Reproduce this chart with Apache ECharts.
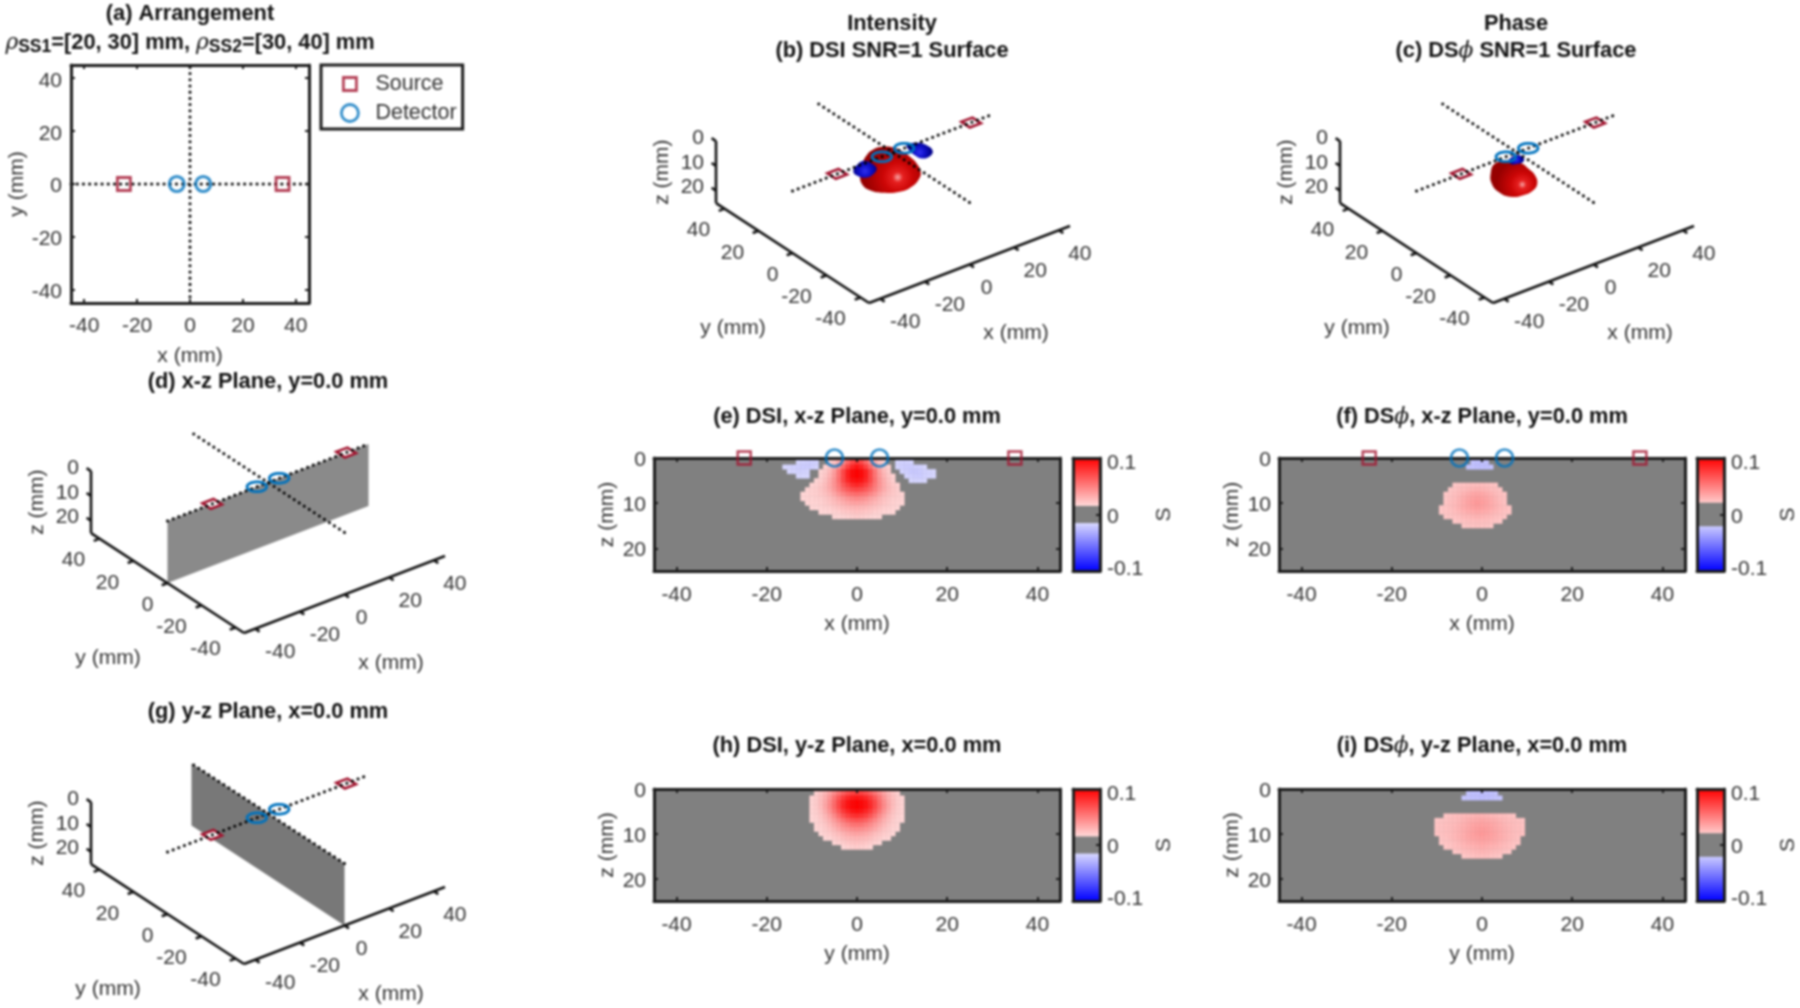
<!DOCTYPE html>
<html>
<head>
<meta charset="utf-8">
<style>
  html, body { margin: 0; background: #fff; }
  #main { width: 1800px; height: 1008px; filter: blur(0.8px); }
</style>
</head>
<body>
<div id="main"></div>
<script src="https://cdn.jsdelivr.net/npm/echarts@6/dist/echarts.min.js"></script>
<script>
// --- values ---
const axisSpan = [-45, 45]
const depthSpan = [0, 25]
const lateralTicks = [-40, -20, 0, 20, 40]
const depthTicks = [0, 10, 20]
const colorbarTicks = [-0.1, 0, 0.1]
const sourceX = [-25, 35]
const detectorX = [-5, 5]

// field rows: [z mm, first x mm, values in S x 1000 for consecutive x at 1 mm]
const dsiXzRows = [
  [0, -5, [20, 28, 38, 50, 60, 66, 60, 50, 38, 28, 20]],
  [1, -6, [18, 24, 33, 45, 60, 72, 78, 72, 60, 45, 33, 24, 18]],
  [2, -7, [18, 22, 30, 42, 58, 74, 86, 92, 86, 74, 58, 42, 30, 22, 18]],
  [3, -8, [17, 20, 27, 38, 54, 72, 88, 97, 100, 97, 88, 72, 54, 38, 27, 20]],
  [4, -8, [18, 22, 30, 40, 55, 72, 88, 97, 100, 97, 88, 72, 55, 40, 30, 22, 18]],
  [5, -9, [17, 19, 24, 32, 42, 56, 72, 85, 93, 95, 93, 85, 72, 56, 42, 32, 24, 19]],
  [6, -10, [17, 18, 21, 26, 33, 42, 53, 65, 75, 82, 85, 82, 75, 65, 53, 42, 33, 26, 21, 18]],
  [7, -11, [17, 18, 19, 22, 26, 32, 40, 49, 58, 65, 70, 72, 70, 65, 58, 49, 40, 32, 26, 22, 19]],
  [8, -12, [16, 17, 18, 19, 21, 24, 28, 34, 41, 47, 53, 56, 58, 56, 53, 47, 41, 34, 28, 24, 21, 19, 17]],
  [9, -12, [16, 17, 17, 18, 19, 21, 24, 28, 33, 37, 41, 44, 46, 44, 41, 37, 33, 28, 24, 21, 19, 18, 17]],
  [10, -11, [16, 17, 17, 18, 20, 22, 25, 28, 31, 34, 36, 37, 36, 34, 31, 28, 25, 22, 20, 18, 17, 16]],
  [11, -10, [16, 16, 17, 18, 19, 21, 23, 25, 27, 28, 29, 28, 27, 25, 23, 21, 19, 18, 17, 16]],
  [12, -8, [16, 16, 17, 18, 19, 21, 22, 23, 24, 23, 22, 21, 19, 18, 17, 16, 16]],
  [13, -5, [16, 16, 17, 18, 19, 20, 19, 18, 17, 16, 16]],
  [1, -13, [-17, -18, -19, -19, -18]],
  [2, -16, [-16, -17, -18, -19, -20, -20, -19, -17]],
  [3, -15, [-16, -17, -18, -18, -17]],
  [4, -13, [-16, -16, -16]],
  [1, 9, [-17, -18, -18, -17]],
  [2, 9, [-17, -19, -20, -20, -19, -18, -16]],
  [3, 10, [-17, -19, -21, -21, -20, -18, -17, -16]],
  [4, 11, [-17, -19, -20, -20, -18, -17, -16]],
  [5, 12, [-16, -17, -17, -16]]
]
const dsiYzRows = [
  [0, -7, [26, 32, 40, 48, 55, 60, 64, 66, 64, 60, 55, 48, 40, 32, 26]],
  [1, -9, [19, 23, 29, 37, 46, 55, 63, 70, 75, 77, 75, 70, 63, 55, 46, 37, 29, 23, 19]],
  [2, -10, [17, 20, 25, 32, 42, 54, 66, 77, 85, 90, 92, 90, 85, 77, 66, 54, 42, 32, 25, 20, 17]],
  [3, -10, [17, 20, 26, 34, 45, 58, 72, 84, 93, 98, 100, 98, 93, 84, 72, 58, 45, 34, 26, 20, 17]],
  [4, -10, [17, 20, 26, 35, 46, 59, 72, 85, 93, 98, 100, 98, 93, 85, 72, 59, 46, 35, 26, 20, 17]],
  [5, -10, [17, 19, 24, 32, 42, 54, 66, 78, 86, 92, 94, 92, 86, 78, 66, 54, 42, 32, 24, 19, 17]],
  [6, -10, [16, 18, 22, 28, 36, 46, 57, 67, 75, 80, 82, 80, 75, 67, 57, 46, 36, 28, 22, 18, 16]],
  [7, -10, [16, 17, 20, 25, 31, 39, 47, 55, 62, 66, 68, 66, 62, 55, 47, 39, 31, 25, 20, 17, 16]],
  [8, -9, [17, 19, 22, 27, 33, 39, 45, 50, 54, 55, 54, 50, 45, 39, 33, 27, 22, 19, 17]],
  [9, -9, [16, 17, 20, 23, 28, 33, 38, 41, 44, 45, 44, 41, 38, 33, 28, 23, 20, 17, 16]],
  [10, -8, [16, 18, 20, 23, 26, 30, 33, 35, 36, 35, 33, 30, 26, 23, 20, 18, 16]],
  [11, -7, [16, 17, 20, 22, 25, 27, 28, 29, 28, 27, 25, 22, 20, 17, 16]],
  [12, -5, [16, 18, 20, 22, 23, 24, 23, 22, 20, 18, 16]],
  [13, -3, [16, 18, 19, 20, 19, 18, 16]]
]
const phiXzRows = [
  [1, -2, [-24, -25, -25, -24]],
  [2, -3, [-23, -24, -25, -25, -25, -24]],
  [6, -6, [22, 23, 24, 25, 26, 26, 26, 25, 24, 23]],
  [7, -7, [22, 23, 25, 26, 28, 29, 30, 29, 28, 26, 25, 23]],
  [8, -8, [22, 23, 25, 27, 30, 32, 34, 35, 34, 32, 30, 27, 25, 23]],
  [9, -8, [22, 24, 26, 29, 32, 35, 37, 38, 37, 35, 32, 29, 26, 24]],
  [10, -8, [23, 25, 27, 30, 33, 36, 38, 40, 38, 36, 33, 30, 27, 24]],
  [11, -9, [22, 23, 25, 27, 30, 33, 35, 37, 38, 37, 35, 33, 30, 27, 25, 23]],
  [12, -9, [22, 23, 24, 26, 28, 30, 32, 33, 34, 33, 32, 30, 28, 26, 24, 23]],
  [13, -8, [22, 23, 24, 25, 27, 28, 29, 30, 29, 28, 27, 25, 24, 23]],
  [14, -6, [22, 23, 24, 25, 25, 26, 25, 25, 24, 23, 22]],
  [15, -4, [22, 23, 23, 24, 23, 23, 22]]
]
const phiYzRows = [
  [0, -2, [-24, -24, -24, -24, -24]],
  [1, -3, [-24, -25, -25, -26, -25, -25, -24]],
  [2, -4, [-23, -24, -25, -25, -26, -25, -25, -24, -23]],
  [6, -8, [23, 24, 25, 26, 27, 28, 29, 30, 30, 29, 28, 27, 26, 25, 24, 23]],
  [7, -10, [22, 23, 24, 25, 26, 27, 29, 31, 32, 33, 34, 33, 32, 31, 29, 27, 26, 25, 24, 23]],
  [8, -10, [23, 24, 25, 26, 27, 29, 31, 33, 35, 36, 37, 36, 35, 33, 31, 29, 27, 26, 25, 24]],
  [9, -10, [23, 24, 25, 26, 28, 30, 32, 34, 36, 38, 39, 38, 36, 34, 32, 30, 28, 26, 25, 24]],
  [10, -10, [23, 24, 25, 26, 28, 30, 32, 35, 37, 39, 40, 39, 37, 35, 32, 30, 28, 26, 25, 24]],
  [11, -9, [23, 24, 26, 28, 30, 32, 34, 36, 37, 38, 37, 36, 34, 32, 30, 28, 26, 24]],
  [12, -9, [22, 23, 24, 26, 28, 30, 32, 33, 34, 35, 34, 33, 32, 30, 28, 26, 24, 23]],
  [13, -8, [22, 23, 25, 26, 28, 29, 30, 31, 32, 31, 30, 29, 28, 26, 25, 23]],
  [14, -6, [22, 23, 25, 26, 27, 28, 29, 28, 27, 26, 25, 23, 22]],
  [15, -4, [22, 23, 24, 25, 25, 25, 24, 23, 22]]
]

// SNR=1 surface silhouettes, in the projected view plane of the 3D panels
const dsiRedOutline = [[-10.7, 5.7], [-19.7, 3], [-26.3, -2.7], [-31.3, -12.7], [-33, -24.3], [-30.3, -32.7], [-23, -37.7], [-9.7, -40.3], [7, -39.3], [18.7, -34.3], [26.3, -26], [27.7, -19.3], [23.7, -11], [17, -4.3], [10.3, 0.7], [0.3, 5]]
const dsiBlueLeftOutline = [[-39.7, -19.3], [-36.3, -12.7], [-29, -8.3], [-21.3, -11], [-16.3, -16], [-19.7, -21.7], [-26.3, -25], [-34.7, -23.7]]
const dsiBlueRightOutline = [[13.7, 7.3], [23.7, 9.7], [33.7, 7.3], [39.7, 1.7], [37, -3.7], [28.7, -6], [20.3, -1.7], [15.3, 3.3]]
const phiRedOutline = [[-22, -11], [-26.3, -21], [-25.3, -31], [-18.7, -39.3], [-7, -44.3], [6.3, -42.7], [16.3, -37.7], [20.3, -31], [18, -22.7], [11.3, -16], [4.7, -11], [-7, -7.7]]
const phiBlueOutline = [[-8.7, -7.7], [-0.3, -2.7], [6.3, -5], [6.3, -9.3], [-2, -11.7], [-7, -11]]

// --- styles and layout ---
const fontFamily = '"Liberation Sans", Arial, sans-serif'
const tickColor = '#333'
const boxColor = '#1c1c1c'
const sourceColor = '#A2142F'
const detectorColor = '#0072BD'
const grey = '#808080'
const view = { xu: 2.233, yu: -1.7, xv: 0.856, yv: 1.11, zv: -2.48 }

const grids = []
const xAxes = []
const yAxes = []
const series = []

function project(p) {
  return [p[0] * view.xu + p[1] * view.yu, p[0] * view.xv + p[1] * view.yv + p[2] * view.zv]
}

function mix(rgb, f) {
  const c = rgb.map(v => Math.round(255 + (v - 255) * f))
  return 'rgb(' + c.join(',') + ')'
}

function colorOf(v) {
  return v > 0 ? mix([255, 0, 0], Math.min(v / 0.1, 1)) : mix([0, 0, 255], Math.min(-v / 0.1, 1))
}

function boxAxis(position, span, ticks, extra) {
  return Object.assign({
    type: 'value',
    position,
    min: span[0],
    max: span[1],
    z: 10,
    splitLine: { show: false },
    axisLine: { show: true, onZero: false, lineStyle: { color: boxColor, width: 3 } },
    axisTick: { show: true, inside: true, length: 4, customValues: ticks, lineStyle: { color: boxColor, width: 2 } },
    axisLabel: { show: false }
  }, extra)
}

function labelStyle(ticks, margin) {
  return { show: true, customValues: ticks, margin, color: tickColor, fontSize: 21, fontFamily }
}

function nameStyle(name, gap) {
  return {
    name,
    nameLocation: 'middle',
    nameGap: gap,
    nameTextStyle: { color: tickColor, fontSize: 21, fontFamily }
  }
}

// one 2D plot box with inward ticks on all four sides
function addBox(rect, ySpan, yTicks, xName, yName, extraY) {
  const idx = grids.length
  grids.push({ left: rect[0], top: rect[1], width: rect[2], height: rect[3], show: true, backgroundColor: rect.bg || 'transparent', borderWidth: 0 })
  xAxes.push(boxAxis('bottom', axisSpan, lateralTicks, Object.assign({ gridIndex: idx, axisLabel: labelStyle(lateralTicks, rect.xMargin) }, nameStyle(xName, rect.xGap))))
  const xTop = xAxes.length
  xAxes.push(boxAxis('top', axisSpan, lateralTicks, { gridIndex: idx }))
  // labels sit a little below their ticks in the picture, so they get a nudged position
  const yLabels = Object.assign(labelStyle(yTicks.map(t => t + rect.yNudge), rect.yMargin), { formatter: v => String(Math.round(v / 10) * 10) })
  yAxes.push(boxAxis('left', ySpan, yTicks, Object.assign({ gridIndex: idx, axisLabel: yLabels }, nameStyle(yName, rect.yGap), extraY)))
  const yRight = yAxes.length
  yAxes.push(boxAxis('right', ySpan, yTicks, Object.assign({ gridIndex: idx }, extraY)))
  return { x: xTop - 1, y: yRight - 1 }
}

function cellsFrom(rows) {
  const cells = []
  rows.forEach(r => r[2].forEach((v, i) => cells.push([r[1] + i, r[0], v / 1000])))
  return cells
}

function addField(plotRect, barRect, rows, threshold, xName, withProbes) {
  const rect = Object.assign(plotRect.slice(), { bg: grey, xMargin: 14, xGap: 43, yMargin: 8, yGap: 36, yNudge: 0.5 })
  const ax = addBox(rect, depthSpan, depthTicks, xName, 'z (mm)', { inverse: true })
  series.push({
    type: 'custom',
    xAxisIndex: ax.x,
    yAxisIndex: ax.y,
    silent: true,
    clip: true,
    z: 2,
    data: cellsFrom(rows),
    renderItem(params, api) {
      const a = api.coord([api.value(0) - 0.5, api.value(1) - 0.5])
      const b = api.coord([api.value(0) + 0.5, api.value(1) + 0.5])
      const c = colorOf(api.value(2))
      return {
        type: 'rect',
        shape: { x: a[0], y: a[1], width: b[0] - a[0], height: b[1] - a[1] },
        style: { fill: c, stroke: c, lineWidth: 0.4 }
      }
    }
  })
  if (withProbes) addProbes(ax, withProbes, 2.4)
  addColorbar(barRect, threshold)
}

function addProbes(ax, sizes, stroke) {
  series.push({
    name: 'Source',
    type: 'scatter',
    xAxisIndex: ax.x,
    yAxisIndex: ax.y,
    symbol: 'rect',
    symbolSize: sizes[0],
    clip: false,
    silent: true,
    z: 20,
    itemStyle: { color: 'transparent', borderColor: sourceColor, borderWidth: stroke },
    data: sourceX.map(x => [x, 0])
  })
  series.push({
    name: 'Detector',
    type: 'scatter',
    xAxisIndex: ax.x,
    yAxisIndex: ax.y,
    symbol: 'circle',
    symbolSize: sizes[1],
    clip: false,
    silent: true,
    z: 20,
    itemStyle: { color: 'transparent', borderColor: detectorColor, borderWidth: stroke + 0.3 },
    data: detectorX.map(x => [x, 0])
  })
}

function addColorbar(rect, threshold) {
  const idx = grids.length
  grids.push({ left: rect[0], top: rect[1], width: rect[2], height: rect[3], show: true, backgroundColor: grey, borderWidth: 0 })
  const barX = { type: 'value', min: 0, max: 1, gridIndex: idx, z: 10, splitLine: { show: false }, axisTick: { show: false }, axisLabel: { show: false }, axisLine: { show: true, onZero: false, lineStyle: { color: boxColor, width: 3 } } }
  xAxes.push(Object.assign({ position: 'bottom' }, barX))
  xAxes.push(Object.assign({ position: 'top' }, barX))
  const barSpan = [colorbarTicks[0], colorbarTicks[2]]
  // label anchors are pulled in from the bar ends, as in the picture
  const barLabels = [-0.0973, -0.0044, 0.0912]
  yAxes.push(boxAxis('left', barSpan, [], { gridIndex: idx, axisTick: { show: false } }))
  yAxes.push(boxAxis('right', barSpan, [0], Object.assign({
    gridIndex: idx,
    axisLabel: Object.assign(labelStyle(barLabels, 7), { formatter: v => String(Math.round(v * 10) / 10 + 0) })
  }, nameStyle('S', 54), { nameRotate: 90 })))
  const segments = [[threshold, colorbarTicks[2]], [colorbarTicks[0], -threshold]]
  series.push({
    type: 'custom',
    xAxisIndex: xAxes.length - 2,
    yAxisIndex: yAxes.length - 1,
    silent: true,
    z: 2,
    data: segments,
    renderItem(params, api) {
      const lo = api.value(0)
      const hi = api.value(1)
      const a = api.coord([0, hi])
      const b = api.coord([1, lo])
      return {
        type: 'rect',
        shape: { x: a[0], y: a[1], width: b[0] - a[0], height: b[1] - a[1] },
        style: { fill: new echarts.graphic.LinearGradient(0, 0, 0, 1, [{ offset: 0, color: colorOf(hi) }, { offset: 1, color: colorOf(lo) }]) }
      }
    }
  })
}

// a hidden grid with one unit = one pixel of the projected view plane
function add3dPanel(center, panel) {
  const idx = grids.length
  const w = 260
  const up = 110
  const down = 190
  grids.push({ left: center[0] - w, top: center[1] - up, width: 2 * w, height: up + down, show: false })
  xAxes.push({ type: 'value', gridIndex: idx, show: false, min: -w, max: w })
  yAxes.push({ type: 'value', gridIndex: idx, show: false, min: -down, max: up })

  function layer(items, z, build) {
    series.push({
      type: 'custom',
      xAxisIndex: xAxes.length - 1,
      yAxisIndex: yAxes.length - 1,
      silent: true,
      clip: false,
      z,
      data: items.map((_, i) => [i, 0]),
      renderItem: (params, api) => build(items[params.dataIndex], api)
    })
  }
  const at = (p, api) => api.coord(project(p))
  const [x0, x1] = axisSpan
  const zEnd = depthSpan[1]

  if (panel.plane) {
    layer([panel.plane], 2, (corners, api) => ({
      type: 'polygon',
      shape: { points: corners.map(p => at(p, api)) },
      style: { fill: panel.planeColor }
    }))
  }
  layer(panel.blobs || [], 3, (blob, api) => ({
    type: 'polygon',
    shape: { points: blob.outline.map(p => api.coord(p)), smooth: 0.45 },
    style: { fill: new echarts.graphic.RadialGradient(blob.spot[0], blob.spot[1], blob.spot[2], blob.stops) }
  }))
  // source squares lie flat in the z=0 plane
  layer(sourceX, 4, (x, api) => {
    const s = 2.5
    return {
      type: 'polygon',
      shape: { points: [[x - s, -s, 0], [x + s, -s, 0], [x + s, s, 0], [x - s, s, 0]].map(p => at(p, api)) },
      style: { fill: '#fff', stroke: sourceColor, lineWidth: 2.6 }
    }
  })
  const guideLines = [
    [[x0, 0, 0], [x1, 0, 0]],
    [[0, x0, 0], [0, x1, 0]]
  ]
  layer(guideLines, 5, (seg, api) => {
    const a = at(seg[0], api)
    const b = at(seg[1], api)
    return {
      type: 'line',
      shape: { x1: a[0], y1: a[1], x2: b[0], y2: b[1] },
      style: { stroke: '#000', lineWidth: 3, lineDash: [0.1, 5.9], lineCap: 'round' }
    }
  })
  layer(detectorX, 6, (x, api) => {
    const r = 3.5
    const pts = []
    for (let a = 0; a < 360; a += 15) {
      pts.push(at([x + r * Math.cos(a * Math.PI / 180), r * Math.sin(a * Math.PI / 180), 0], api))
    }
    return { type: 'polygon', shape: { points: pts }, style: { fill: 'none', stroke: detectorColor, lineWidth: 2.8 } }
  })

  // axes: x and y run along the floor at z=25, z stands at the back corner
  const tickLen = 2.6
  const segs = [
    [[x0, x0, zEnd], [x1, x0, zEnd]],
    [[x0, x0, zEnd], [x0, x1, zEnd]],
    [[x0, x1, 0], [x0, x1, zEnd]]
  ]
  lateralTicks.forEach(t => {
    segs.push([[t, x0, zEnd], [t, x0 - tickLen, zEnd]])
    segs.push([[x0, t, zEnd], [x0 - tickLen, t, zEnd]])
  })
  depthTicks.forEach(t => segs.push([[x0, x1, t], [x0, x1 + tickLen, t]]))
  layer(segs, 8, (seg, api) => {
    const a = at(seg[0], api)
    const b = at(seg[1], api)
    return {
      type: 'line',
      shape: { x1: a[0], y1: a[1], x2: b[0], y2: b[1] },
      style: { stroke: '#111', lineWidth: 2.6 }
    }
  })

  const texts = []
  lateralTicks.forEach(t => {
    texts.push({ p: [t, x0, zEnd], dx: t === 0 ? 17 : t < 0 ? 25 : 21, dy: 24, text: String(t), align: 'center' })
    texts.push({ p: [x0, t, zEnd], dx: t === 0 ? -20 : t < 0 ? -30 : -26, dy: 22, text: String(t), align: 'center' })
  })
  depthTicks.forEach(t => texts.push({ p: [x0, x1, t], dx: -12, dy: -3, text: String(t), align: 'right' }))
  texts.push({ p: [x0, x0, zEnd], dx: 147, dy: 30, text: 'x (mm)', align: 'center' })
  texts.push({ p: [x0, x0, zEnd], dx: -136, dy: 25, text: 'y (mm)', align: 'center' })
  texts.push({ p: [x0, x1, zEnd / 2], dx: -54, dy: 0, text: 'z (mm)', align: 'center', rotation: Math.PI / 2 })
  layer(texts, 9, (t, api) => {
    const a = at(t.p, api)
    return {
      type: 'text',
      x: a[0] + t.dx,
      y: a[1] + t.dy,
      rotation: t.rotation || 0,
      style: { text: t.text, fill: tickColor, font: '21px ' + fontFamily, textAlign: t.align, textVerticalAlign: 'middle' }
    }
  })
}

const redStops = [
  { offset: 0, color: '#f8a8a8' },
  { offset: 0.16, color: '#e62020' },
  { offset: 0.45, color: '#cc0606' },
  { offset: 1, color: '#960000' }
]
const blueStops = [
  { offset: 0, color: '#3030f0' },
  { offset: 0.5, color: '#1010c8' },
  { offset: 1, color: '#00008c' }
]

// --- panels ---
// (a) arrangement
const boxA = Object.assign([71, 65, 238, 238], { xMargin: 13, xGap: 43, yMargin: 9, yGap: 42, yNudge: -1 })
const axA = addBox(boxA, axisSpan, lateralTicks, 'x (mm)', 'y (mm)', {})
const guideA = [[[axisSpan[0], 0], [axisSpan[1], 0]], [[0, axisSpan[0]], [0, axisSpan[1]]]]
guideA.forEach(seg => series.push({
  type: 'line',
  xAxisIndex: axA.x,
  yAxisIndex: axA.y,
  silent: true,
  showSymbol: false,
  lineStyle: { color: '#000', width: 3, type: [0.1, 6.1], cap: 'round' },
  z: 3,
  data: seg
}))
addProbes(axA, [13, 15], 2.8)

add3dPanel([893, 152.5], {
  blobs: [
    { outline: dsiRedOutline, spot: [0.62, 0.66, 0.7], stops: redStops },
    { outline: dsiBlueLeftOutline, spot: [0.5, 0.6, 0.7], stops: blueStops },
    { outline: dsiBlueRightOutline, spot: [0.5, 0.6, 0.7], stops: blueStops }
  ]
})
add3dPanel([1517, 152.5], {
  blobs: [
    { outline: phiRedOutline, spot: [0.68, 0.66, 0.7], stops: redStops },
    { outline: phiBlueOutline, spot: [0.5, 0.5, 0.7], stops: blueStops }
  ]
})
add3dPanel([268, 482.5], {
  plane: [[axisSpan[0], 0, 0], [axisSpan[1], 0, 0], [axisSpan[1], 0, depthSpan[1]], [axisSpan[0], 0, depthSpan[1]]],
  planeColor: '#8a8a8a'
})
add3dPanel([268, 813.5], {
  plane: [[0, axisSpan[0], 0], [0, axisSpan[1], 0], [0, axisSpan[1], depthSpan[1]], [0, axisSpan[0], depthSpan[1]]],
  planeColor: '#787878'
})

addField([654, 458, 406, 113], [1073, 458, 27, 113], dsiXzRows, 0.015, 'x (mm)', [13, 17])
addField([1279, 458, 406, 113], [1697, 458, 27, 113], phiXzRows, 0.021, 'x (mm)', [13, 17])
addField([654, 789, 406, 112], [1073, 789, 27, 112], dsiYzRows, 0.015, 'y (mm)', null)
addField([1279, 789, 406, 112], [1697, 789, 27, 112], phiYzRows, 0.021, 'y (mm)', null)

function titleAt(text, x, y) {
  return {
    text,
    left: x,
    top: y,
    padding: 0,
    textAlign: 'center',
    textVerticalAlign: 'middle',
    textStyle: {
      color: '#111',
      fontSize: 21.8,
      fontWeight: 'bold',
      fontFamily,
      rich: {
        p: { fontFamily: '"DejaVu Serif", "Liberation Serif", serif', fontStyle: 'italic', fontWeight: 'normal', fontSize: 21.8, color: '#111' },
        s: { fontSize: 17.5, fontWeight: 'bold', fontFamily, color: '#111', verticalAlign: 'bottom', padding: [9, 0, 0, 0] }
      }
    }
  }
}

const chart = echarts.init(document.getElementById('main'), null, { renderer: 'canvas' })
chart.setOption({
  animation: false,
  backgroundColor: '#fff',
  title: [
    titleAt('(a) Arrangement', 190, 14),
    titleAt('{p|ρ}{s|SS1}=[20, 30] mm, {p|ρ}{s|SS2}=[30, 40] mm', 190, 43),
    titleAt('Intensity', 892, 24),
    titleAt('(b) DSI SNR=1 Surface', 892, 51),
    titleAt('Phase', 1516, 24),
    titleAt('(c) DS{p|ϕ} SNR=1 Surface', 1516, 51),
    titleAt('(d) x-z Plane, y=0.0 mm', 268, 382),
    titleAt('(e) DSI, x-z Plane, y=0.0 mm', 857, 417),
    titleAt('(f) DS{p|ϕ}, x-z Plane, y=0.0 mm', 1482, 417),
    titleAt('(g) y-z Plane, x=0.0 mm', 268, 712),
    titleAt('(h) DSI, y-z Plane, x=0.0 mm', 857, 746),
    titleAt('(i) DS{p|ϕ}, y-z Plane, x=0.0 mm', 1482, 746)
  ],
  legend: {
    show: true,
    left: 321,
    top: 65,
    orient: 'vertical',
    // the square icon keeps a transparent margin so it draws smaller than the circle
    data: [
      { name: 'Source', icon: 'path://M0,0 M17,17 M2,2 H15 V15 H2 Z' },
      { name: 'Detector', icon: 'circle' }
    ],
    padding: [8, 6, 5, 19],
    itemWidth: 17,
    itemHeight: 17,
    itemGap: 7,
    selectedMode: false,
    borderColor: boxColor,
    borderWidth: 3,
    itemStyle: { borderWidth: 2.8 },
    textStyle: { color: tickColor, fontSize: 21.5, fontFamily, padding: [3, 0, 0, 12] }
  },
  grid: grids,
  xAxis: xAxes,
  yAxis: yAxes,
  series
})
</script>
</body>
</html>
